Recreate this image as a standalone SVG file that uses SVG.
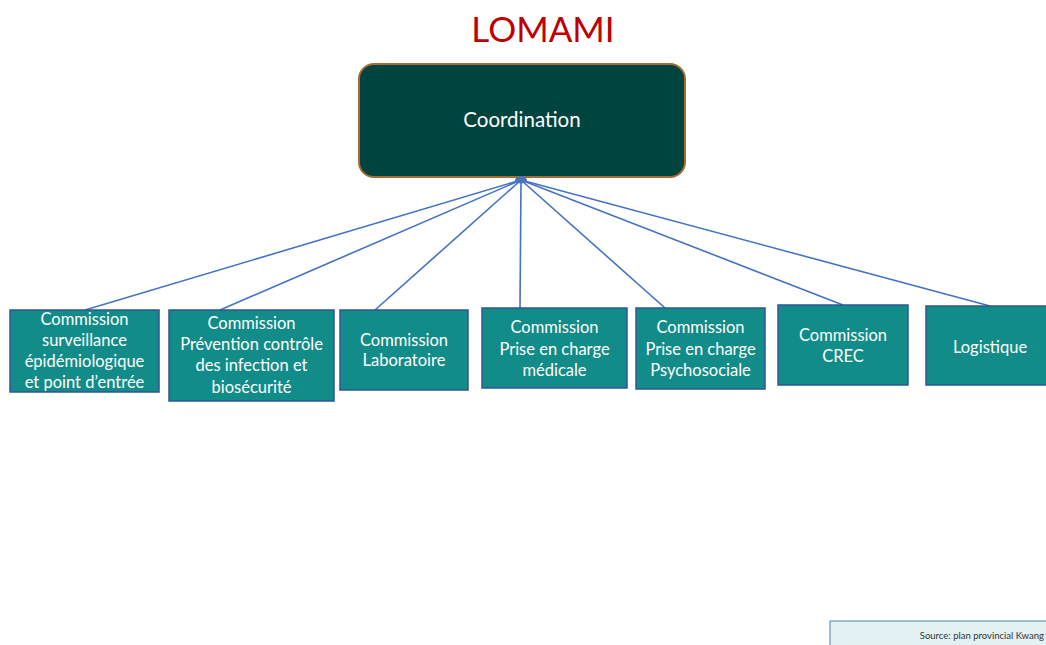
<svg xmlns="http://www.w3.org/2000/svg" width="1046" height="645" viewBox="0 0 1046 645">
<style>
.box{fill:#128c88;stroke:#2f5597;stroke-width:1.5}
.t{font-family:Lato,"Open Sans",sans-serif;font-size:16.5px;fill:#ffffff;text-anchor:middle}
.c{stroke:#4472c4;stroke-width:1.6;fill:none}
</style>
<rect width="1046" height="645" fill="#ffffff"/>
<text x="543" y="42" font-family="Lato,'Open Sans',sans-serif" font-size="35" fill="#c00000" text-anchor="middle">LOMAMI</text>
<g id="coordination">
<rect x="359" y="64" width="326" height="113" rx="15" fill="#004440" stroke="#a86a34" stroke-width="2"/>
<text x="522" y="127" font-family="Lato,'Open Sans',sans-serif" font-size="20.5" fill="#ffffff" text-anchor="middle">Coordination</text>
</g>
<g id="connectors">
<line class="c" x1="521" y1="180" x2="85" y2="310"/>
<line class="c" x1="521" y1="180" x2="220" y2="310"/>
<line class="c" x1="521" y1="180" x2="375" y2="310"/>
<line class="c" x1="521" y1="180" x2="520" y2="308"/>
<line class="c" x1="521" y1="180" x2="665" y2="308"/>
<line class="c" x1="521" y1="180" x2="843" y2="305"/>
<line class="c" x1="521" y1="180" x2="990" y2="306"/>
<ellipse cx="521" cy="180" rx="6" ry="3.5" fill="#4472c4"/>
</g>
<g id="n1">
<rect class="box" x="10" y="310" width="149" height="82"/>
<text class="t" x="84.5" y="325">Commission</text>
<text class="t" x="84.5" y="346">surveillance</text>
<text class="t" x="84.5" y="367">épidémiologique</text>
<text class="t" x="84.5" y="388">et point d’entrée</text>
</g>
<g id="n2">
<rect class="box" x="169" y="310" width="165" height="91"/>
<text class="t" x="251.5" y="329">Commission</text>
<text class="t" x="251.5" y="350">Prévention contrôle</text>
<text class="t" x="251.5" y="371">des infection et</text>
<text class="t" x="251.5" y="393">biosécurité</text>
</g>
<g id="n3">
<rect class="box" x="340" y="310" width="128" height="80"/>
<text class="t" x="404" y="346">Commission</text>
<text class="t" x="404" y="366">Laboratoire</text>
</g>
<g id="n4">
<rect class="box" x="482" y="308" width="145" height="80"/>
<text class="t" x="554.5" y="333">Commission</text>
<text class="t" x="554.5" y="355">Prise en charge</text>
<text class="t" x="554.5" y="376">médicale</text>
</g>
<g id="n5">
<rect class="box" x="636" y="308" width="129" height="81"/>
<text class="t" x="700.5" y="333">Commission</text>
<text class="t" x="700.5" y="355">Prise en charge</text>
<text class="t" x="700.5" y="376">Psychosociale</text>
</g>
<g id="n6">
<rect class="box" x="778" y="305" width="130" height="80"/>
<text class="t" x="843" y="341">Commission</text>
<text class="t" x="843" y="362">CREC</text>
</g>
<g id="n7">
<rect class="box" x="926" y="306" width="125" height="79"/>
<text class="t" x="990" y="353">Logistique</text>
</g>
<g id="source">
<rect x="830" y="621" width="220" height="30" fill="#e2f1f1" stroke="#5b80a6" stroke-width="1"/>
<text x="1044" y="639" font-family="Lato,'Open Sans',sans-serif" font-size="9.5" fill="#333333" text-anchor="end">Source: plan provincial Kwang</text>
</g>
</svg>
